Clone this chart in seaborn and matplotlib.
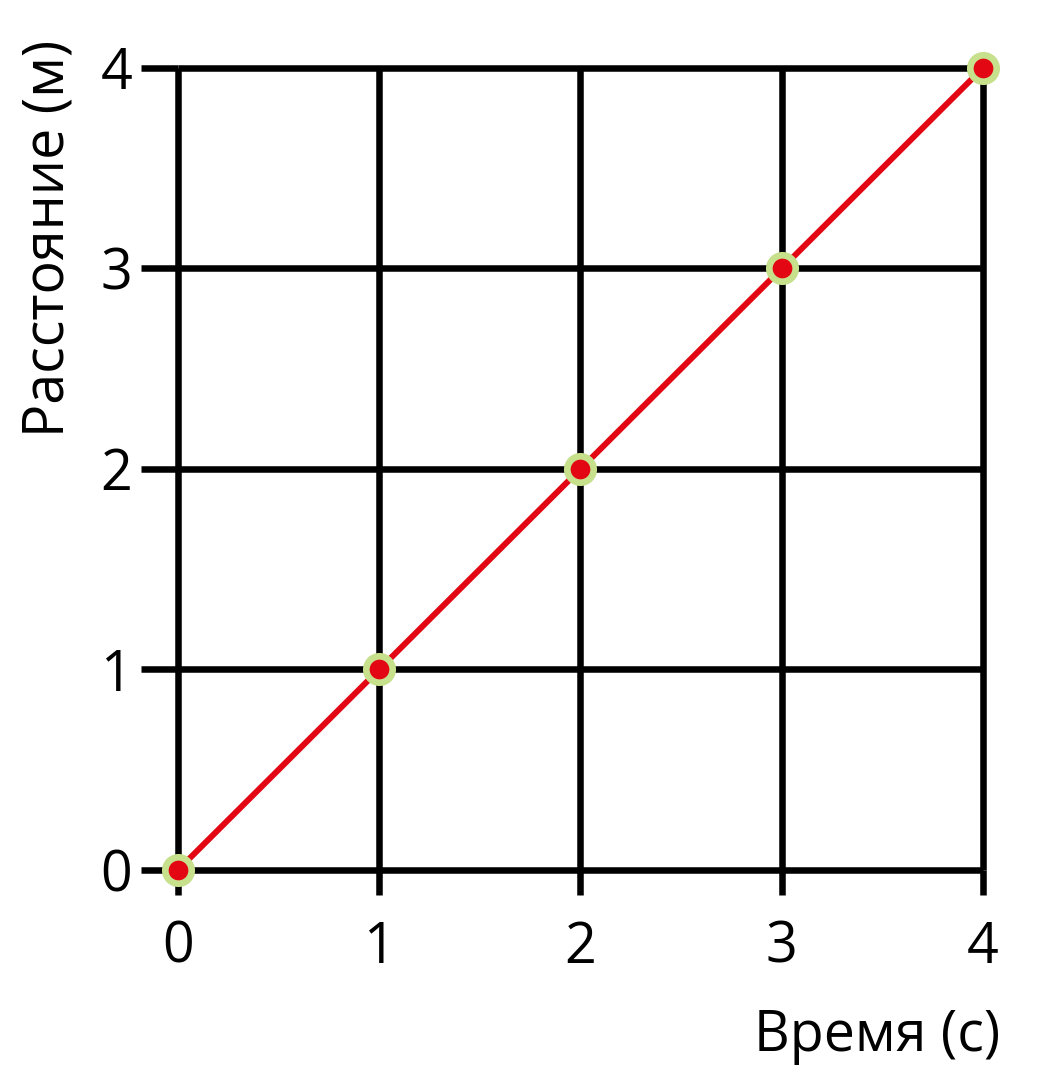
import matplotlib
matplotlib.use("Agg")
import matplotlib.pyplot as plt
import seaborn as sns
import pandas as pd

# data
time_s = [0, 1, 2, 3, 4]
distance_m = [0, 1, 2, 3, 4]
x_ticks = [0, 1, 2, 3, 4]
y_ticks = [0, 1, 2, 3, 4]

df = pd.DataFrame({"t": time_s, "d": distance_m})

sns.set_style("white")
plt.rcParams["font.family"] = ["Open Sans", "DejaVu Sans"]
plt.rcParams["text.color"] = "black"
plt.rcParams["xtick.color"] = "black"
plt.rcParams["ytick.color"] = "black"
plt.rcParams["axes.labelcolor"] = "black"

fig = plt.figure(figsize=(10.5, 10.85), dpi=100)
ax = fig.add_axes([0.1695, 0.1982, 0.7667, 0.7392])

sns.lineplot(data=df, x="t", y="d", ax=ax, color="#e30613", lw=4.3,
             marker="o", markersize=19, markerfacecolor="#e30613",
             markeredgecolor="#c6e08c", markeredgewidth=4.8, clip_on=False, zorder=5)

ax.set_xlim(0, 4)
ax.set_ylim(0, 4)
ax.set_xticks(x_ticks)
ax.set_yticks(y_ticks)
ax.grid(True, color="black", lw=4.7)
for gl in ax.get_xgridlines() + ax.get_ygridlines():
    gl.set_clip_on(False)
    gl.set_solid_capstyle("butt")
for s in ax.spines.values():
    s.set_visible(False)

ax.tick_params(axis="y", length=27, width=4.7, color="black", pad=6, labelsize=40, left=True)
ax.tick_params(axis="x", length=18, width=4.7, color="black", pad=18, labelsize=40, bottom=True)

ax.set_xlabel("Время (с)", fontsize=40, loc="right")
ax.set_ylabel("Расстояние (м)", fontsize=40, loc="top")
ax.xaxis.set_label_coords(1.021, -0.172)
ax.yaxis.set_label_coords(-0.125, 1.035)

fig.savefig("out.png", dpi=100, facecolor="white")
